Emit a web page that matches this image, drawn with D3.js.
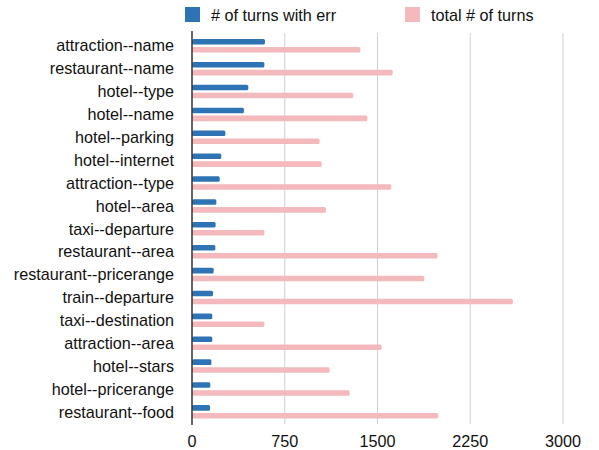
<!DOCTYPE html>
<html><head><meta charset="utf-8">
<script src="https://cdn.jsdelivr.net/npm/d3@7"></script>
<style>body{margin:0;background:#fff}text{font-family:"Liberation Sans",Arial,sans-serif}</style>
</head><body><svg id="c" width="599" height="450"></svg>
<script>
const categories = ["attraction--name","restaurant--name","hotel--type","hotel--name","hotel--parking","hotel--internet","attraction--type","hotel--area","taxi--departure","restaurant--area","restaurant--pricerange","train--departure","taxi--destination","attraction--area","hotel--stars","hotel--pricerange","restaurant--food"];
const errTurns = [590,585,455,420,270,237,224,197,191,189,175,170,164,164,157,148,146];
const totalTurns = [1361,1623,1304,1418,1032,1048,1612,1083,585,1986,1878,2595,585,1533,1113,1275,1991];
const seriesNames = ["# of turns with err","total # of turns"];
const tickValues = [0,750,1500,2250,3000];
const colors = ["#2e74b5","#f4b9bd"];

const svg = d3.select("#c");
const x = d3.scaleLinear().domain([0,3000]).range([192,563]);
const y = d3.scaleBand().domain(categories).range([34.5,423.5]);
const inner = d3.scaleBand().domain([0,1]).range([4.5,18]).paddingInner(0.3);

svg.append("g").selectAll("line").data(tickValues.slice(1)).join("line")
  .attr("x1",d=>x(d)).attr("x2",d=>x(d)).attr("y1",33).attr("y2",424)
  .attr("stroke","#d0d0d0").attr("stroke-width",1);

const rows = svg.append("g").selectAll("g").data(categories).join("g")
  .attr("transform",d=>`translate(0,${y(d)})`);
[errTurns,totalTurns].forEach((vals,si)=>{
  rows.append("rect")
    .attr("x",x(0)).attr("y",inner(si))
    .attr("width",(d,i)=>x(vals[i])-x(0)).attr("height",inner.bandwidth())
    .attr("rx",1.5).attr("fill",colors[si]);
});

svg.append("line").attr("x1",x(0)).attr("x2",x(0)).attr("y1",31).attr("y2",425)
  .attr("stroke","#333").attr("stroke-width",1.5);

svg.append("g").selectAll("text").data(categories).join("text")
  .attr("x",174).attr("y",d=>y(d)+y.bandwidth()/2+5.5)
  .attr("text-anchor","end").attr("font-size",16.2).attr("fill","#111").text(d=>d);

svg.append("g").selectAll("text").data(tickValues).join("text")
  .attr("x",d=>x(d)).attr("y",446.5).attr("text-anchor","middle")
  .attr("font-size",16.2).attr("fill","#111").text(d=>d);

const legX = [185,405];
seriesNames.forEach((n,i)=>{
  svg.append("rect").attr("x",legX[i]).attr("y",7).attr("width",15).attr("height",15).attr("fill",colors[i]);
  svg.append("text").attr("x",legX[i]+26).attr("y",20.5).attr("font-size",16.2).attr("fill","#111").text(n);
});
</script></body></html>
